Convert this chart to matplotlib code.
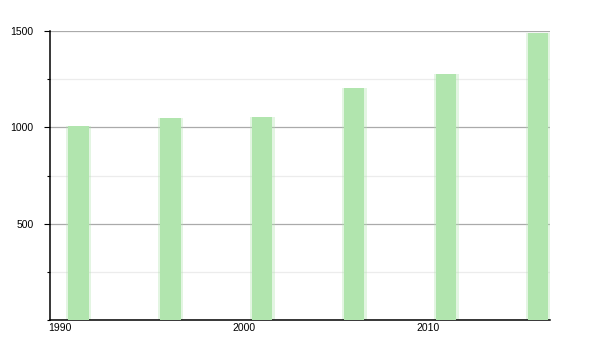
import matplotlib
matplotlib.use('Agg')
import matplotlib.pyplot as plt
from matplotlib.ticker import MultipleLocator

plt.rcParams['font.family'] = ['Liberation Sans', 'DejaVu Sans']

# census years and population
years = [1991, 1996, 2001, 2006, 2011, 2016]
population = [1007, 1047, 1055, 1206, 1277, 1491]
xticks = [1990, 2000, 2010]
yticks = [500, 1000, 1500]

bar_color = '#b1e5ae'

fig = plt.figure(figsize=(6, 3.5), dpi=100)
ax = fig.add_axes([50/600, 30/350, 500/600, 289/350])

# soft edge halo, then the bar itself
ax.bar(years, population, width=1.35, color=bar_color, alpha=0.35, zorder=2, linewidth=0)
ax.bar(years, population, width=1.1, color=bar_color, zorder=3, linewidth=0)

ax.set_xlim(1989.45, 2016.65)
ax.set_ylim(0, 1500)

ax.set_yticks(yticks)
ax.yaxis.set_minor_locator(MultipleLocator(250))
ax.set_xticks(xticks)
ax.set_xticklabels([str(x) for x in xticks])

ax.grid(axis='y', which='major', color='#aaaaaa', linewidth=0.9, zorder=1)
ax.grid(axis='y', which='minor', color='#ececec', linewidth=0.9, zorder=1)
ax.set_axisbelow(True)

for s in ['top', 'right']:
    ax.spines[s].set_visible(False)
ax.spines['left'].set_linewidth(1.1)
ax.spines['bottom'].set_linewidth(1.1)

ax.tick_params(axis='y', which='major', length=4, width=0.8, labelsize=7.5, pad=8)
ax.tick_params(axis='y', which='minor', length=2, width=0.8)
ax.tick_params(axis='x', length=0, labelsize=7.5, pad=2)

fig.savefig('out.png', dpi=100)
